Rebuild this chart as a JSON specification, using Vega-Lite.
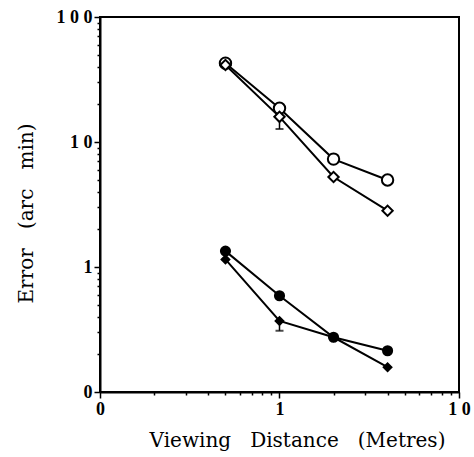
{
  "$schema": "https://vega.github.io/schema/vega-lite/v6.json",
  "width": 359,
  "height": 375,
  "autosize": {"type": "none"},
  "padding": {"left": 100, "top": 17, "right": 15, "bottom": 65},
  "background": "white",
  "config": {
    "view": {"stroke": "black", "strokeWidth": 2},
    "axis": {
      "grid": false,
      "domainColor": "black",
      "domainWidth": 2,
      "tickColor": "black",
      "tickWidth": 1.5,
      "labelFont": "Liberation Serif",
      "labelFontWeight": "bold",
      "labelFontSize": 18,
      "labelColor": "black",
      "labelOverlap": false,
      "labelFlush": false,
      "titleFont": "DejaVu Serif",
      "titleFontWeight": "normal",
      "titleFontSize": 20,
      "titleColor": "black"
    }
  },
  "datasets": {
    "pts": [
      {"series": "open circles", "x": 0.5, "y": 42.7},
      {"series": "open circles", "x": 1, "y": 18.6},
      {"series": "open circles", "x": 2, "y": 7.3},
      {"series": "open circles", "x": 4, "y": 4.97},
      {"series": "open diamonds", "x": 0.5, "y": 41.3},
      {"series": "open diamonds", "x": 1, "y": 15.9},
      {"series": "open diamonds", "x": 2, "y": 5.25},
      {"series": "open diamonds", "x": 4, "y": 2.82},
      {"series": "filled circles", "x": 0.5, "y": 1.34},
      {"series": "filled circles", "x": 1, "y": 0.589},
      {"series": "filled circles", "x": 2, "y": 0.274},
      {"series": "filled circles", "x": 4, "y": 0.214},
      {"series": "filled diamonds", "x": 0.5, "y": 1.15},
      {"series": "filled diamonds", "x": 1, "y": 0.37},
      {"series": "filled diamonds", "x": 2, "y": 0.274},
      {"series": "filled diamonds", "x": 4, "y": 0.158}
    ],
    "errs": [
      {"series": "open diamonds", "x": 1, "y": 15.9, "low": 12.7},
      {"series": "filled diamonds", "x": 1, "y": 0.37, "low": 0.309}
    ]
  },
  "encoding": {
    "x": {
      "field": "x",
      "type": "quantitative",
      "scale": {"type": "log", "domain": [0.1, 10], "nice": false},
      "axis": {
        "title": "Viewing\u00a0\u00a0\u00a0Distance\u00a0\u00a0\u00a0(Metres)",
        "values": [0.1, 0.2, 0.3, 0.4, 0.5, 0.6, 0.7, 0.8, 0.9, 1, 2, 3, 4, 5, 6, 7, 8, 9, 10],
        "labelExpr": "datum.value == 0.1 ? '0' : datum.value == 1 ? '1' : datum.value == 10 ? '1 0' : ''",
        "tickSize": {"condition": {"test": "datum.value == 0.1 || datum.value == 1 || datum.value == 10", "value": 6}, "value": 3},
        "labelPadding": 2,
        "titleX": 197,
        "titleY": 48,
        "titleAlign": "center",
        "titleBaseline": "middle"
      }
    },
    "y": {
      "field": "y",
      "type": "quantitative",
      "scale": {"type": "log", "domain": [0.1, 100], "nice": false},
      "axis": {
        "title": "Error\u00a0\u00a0\u00a0(arc\u00a0\u00a0\u00a0min)",
        "values": [0.1, 0.2, 0.3, 0.4, 0.5, 0.6, 0.7, 0.8, 0.9, 1, 2, 3, 4, 5, 6, 7, 8, 9, 10, 20, 30, 40, 50, 60, 70, 80, 90, 100],
        "labelExpr": "datum.value == 0.1 ? '0' : datum.value == 1 ? '1' : datum.value == 10 ? '1 0' : datum.value == 100 ? '1 0 0' : ''",
        "tickSize": {"condition": {"test": "datum.value == 0.1 || datum.value == 1 || datum.value == 10 || datum.value == 100", "value": 6}, "value": 3},
        "labelPadding": 2,
        "titleX": -74,
        "titleY": 196,
        "titleAngle": -90,
        "titleAlign": "center",
        "titleBaseline": "middle"
      }
    }
  },
  "layer": [
    {
      "data": {"name": "pts"},
      "mark": {"type": "line", "color": "black", "strokeWidth": 2},
      "encoding": {"detail": {"field": "series"}, "order": {"field": "x", "type": "quantitative"}}
    },
    {
      "data": {"name": "errs"},
      "mark": {"type": "rule", "color": "black", "strokeWidth": 1.5},
      "encoding": {"y2": {"field": "low"}}
    },
    {
      "data": {"name": "errs"},
      "mark": {"type": "tick", "orient": "horizontal", "color": "black", "size": 8, "thickness": 2},
      "encoding": {"y": {"field": "low", "type": "quantitative"}}
    },
    {
      "data": {"name": "pts"},
      "mark": {"type": "point", "filled": true, "stroke": "black", "strokeWidth": 2, "opacity": 1},
      "encoding": {
        "shape": {"field": "series", "scale": {"domain": ["open circles", "open diamonds", "filled circles", "filled diamonds"], "range": ["circle", "diamond", "circle", "diamond"]}, "legend": null},
        "fill": {"field": "series", "scale": {"domain": ["open circles", "open diamonds", "filled circles", "filled diamonds"], "range": ["white", "white", "black", "black"]}, "legend": null},
        "size": {"field": "series", "scale": {"domain": ["open circles", "open diamonds", "filled circles", "filled diamonds"], "range": [130, 60, 110, 100]}, "legend": null}
      }
    }
  ]
}
